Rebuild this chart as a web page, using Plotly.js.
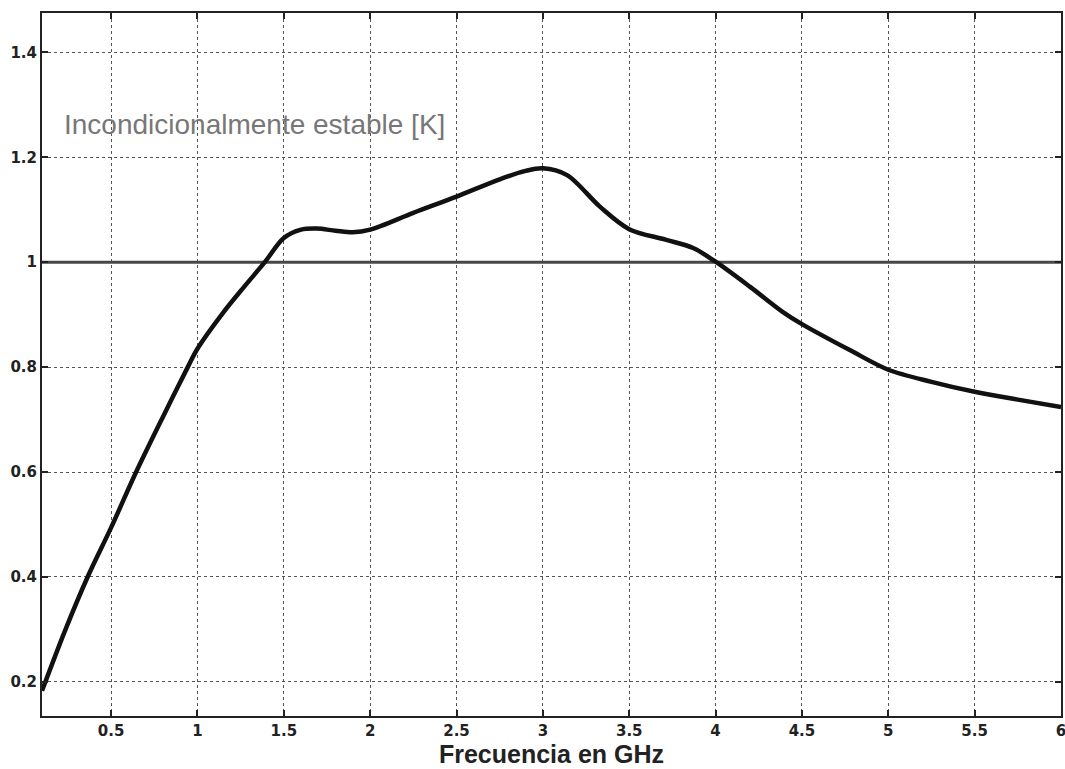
<!DOCTYPE html>
<html>
<head>
<meta charset="utf-8">
<script src="https://cdn.plot.ly/plotly-3.0.1.min.js"></script>
<style>html,body{margin:0;padding:0;background:#fff;}#chart{width:1065px;height:769px;}</style>
</head>
<body>
<div id="chart"></div>
<script>
const freqGHz = [0.1, 0.23, 0.364, 0.5, 0.645, 0.8, 0.944, 1.0, 1.147, 1.27, 1.39, 1.5, 1.6, 1.69, 1.8, 1.9, 2.0, 2.25, 2.5, 2.75, 2.9, 3.0, 3.14, 3.33, 3.5, 3.71, 3.87, 4.0, 4.2, 4.39, 4.5, 4.78, 5.0, 5.25, 5.5, 5.75, 6.0];
const kFactor = [0.183, 0.295, 0.40, 0.494, 0.60, 0.705, 0.80, 0.835, 0.903, 0.953, 1.0, 1.046, 1.062, 1.064, 1.06, 1.057, 1.062, 1.094, 1.125, 1.158, 1.174, 1.179, 1.166, 1.106, 1.063, 1.043, 1.027, 1.001, 0.953, 0.905, 0.882, 0.832, 0.795, 0.772, 0.753, 0.738, 0.724];
const refX = [0.1, 6];
const refY = [1, 1];
const xTicks = [0.5, 1, 1.5, 2, 2.5, 3, 3.5, 4, 4.5, 5, 5.5, 6];
const yTicks = [0.2, 0.4, 0.6, 0.8, 1, 1.2, 1.4];
const labelText = 'Incondicionalmente estable [K]';
const xTitle = 'Frecuencia en GHz';

const data = [
  {x: refX, y: refY, type: 'scatter', mode: 'lines', line: {color: '#474747', width: 3}, hoverinfo: 'skip'},
  {x: freqGHz, y: kFactor, type: 'scatter', mode: 'lines', line: {color: '#111', width: 4.5, shape: 'spline', smoothing: 0.9}}
];

const axisCommon = {
  showline: true, linecolor: '#222', linewidth: 2, mirror: 'ticks',
  ticks: 'inside', ticklen: 6, tickwidth: 2, tickcolor: '#222',
  showgrid: true, gridcolor: '#555', griddash: 'dot', gridwidth: 1,
  zeroline: false, ticklabeloverflow: 'allow',
  tickfont: {family: 'DejaVu Sans, sans-serif', size: 15, color: '#222', weight: 'bold'}
};

const layout = {
  width: 1065, height: 769,
  margin: {l: 42, r: 4, t: 13, b: 53},
  paper_bgcolor: '#fff', plot_bgcolor: '#fff',
  showlegend: false,
  xaxis: Object.assign({}, axisCommon, {
    range: [0.1, 6], tickvals: xTicks, ticktext: xTicks.map(String),
    title: {text: '<b>' + xTitle + '</b>', font: {family: 'Liberation Sans, Arial, sans-serif', size: 25, color: '#222'}, standoff: 4}
  }),
  yaxis: Object.assign({}, axisCommon, {
    range: [0.135, 1.475], tickvals: yTicks, ticktext: yTicks.map(String)
  }),
  annotations: [{
    x: 0.215, y: 1.262, xref: 'x', yref: 'y', xanchor: 'left', yanchor: 'middle',
    text: labelText, showarrow: false,
    font: {family: 'Liberation Sans, Arial, sans-serif', size: 28, color: '#777'}
  }]
};

Plotly.newPlot('chart', data, layout, {displayModeBar: false, staticPlot: true});
</script>
</body>
</html>
